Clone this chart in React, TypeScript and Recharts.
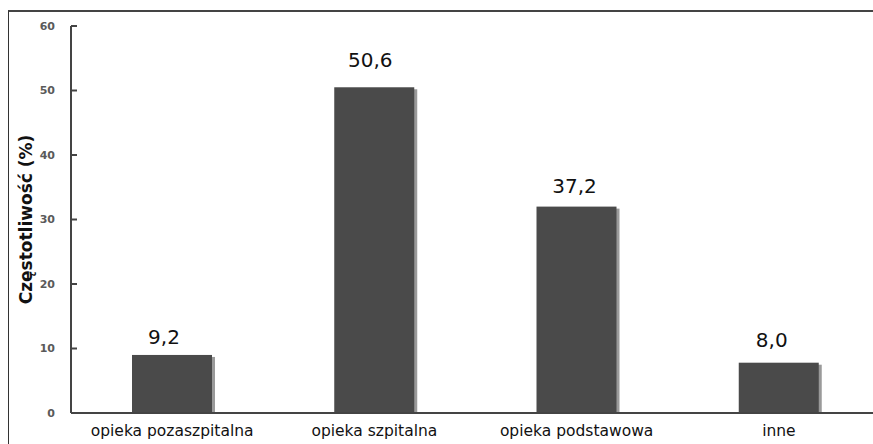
import React from "react";
import { BarChart, Bar, XAxis, YAxis, LabelList } from "recharts";

// categories and values
const categories = [
  "opieka pozaszpitalna",
  "opieka szpitalna",
  "opieka podstawowa",
  "inne",
];
// bar heights as drawn in the figure
const barHeights = [9.0, 50.5, 32.0, 7.8];
// value labels printed above the bars
const valueLabels = ["9,2", "50,6", "37,2", "8,0"];
const yTicks = [0, 10, 20, 30, 40, 50, 60];

// small per-label nudges so the labels sit where the original has them
const labelNudge = [
  { dx: -8, gap: 11 },
  { dx: -4, gap: 20 },
  { dx: -2, gap: 14 },
  { dx: -7, gap: 16 },
];

const FONT = "'DejaVu Sans', Verdana, sans-serif";

const data = categories.map((name, i) => ({
  name,
  value: barHeights[i],
  label: valueLabels[i],
}));

const ShadowBar = (props: any) => {
  const { x, y, width, height, fill } = props;
  if (!height) return null;
  return (
    <g>
      <rect x={x + 3} y={y + 2} width={width} height={height - 2} fill="#9a9a9a" />
      <rect x={x} y={y} width={width} height={height} fill={fill} />
    </g>
  );
};

const ValueLabel = (props: any) => {
  const { x, y, width, index, value } = props;
  const n = labelNudge[index] || { dx: 0, gap: 14 };
  return (
    <text
      x={x + width / 2 + n.dx}
      y={y - n.gap}
      textAnchor="middle"
      fontFamily={FONT}
      fontSize={20}
      fill="#111"
    >
      {value}
    </text>
  );
};

const App: React.FC = () => {
  return (
    <div
      style={{
        position: "absolute",
        left: 8,
        top: 10,
        width: 865,
        height: 434,
        borderTop: "2px solid #444",
        borderLeft: "1px solid #333",
        overflow: "hidden",
        background: "#fff",
      }}
    >
      <BarChart
        width={880}
        height={432}
        data={data}
        margin={{ top: 14, right: 9, bottom: 0, left: 0 }}
        barSize={80}
      >
        <XAxis
          dataKey="name"
          height={31}
          axisLine={{ stroke: "#444", strokeWidth: 2 }}
          tickLine={false}
          tickMargin={6}
          interval={0}
          tick={{ fontFamily: FONT, fontSize: 15.5, fill: "#111" }}
        />
        <YAxis
          width={62}
          domain={[0, 60]}
          ticks={yTicks}
          interval={0}
          axisLine={{ stroke: "#444", strokeWidth: 2 }}
          tickLine={{ stroke: "#444", strokeWidth: 2 }}
          tickSize={-6}
          tickMargin={22}
          tick={{ fontFamily: FONT, fontSize: 11, fontWeight: "bold", fill: "#5a5a5a" }}
          label={{
            value: "Częstotliwość (%)",
            angle: -90,
            position: "insideLeft",
            offset: 17,
            style: {
              textAnchor: "middle",
              fontFamily: FONT,
              fontSize: 17,
              fontWeight: "bold",
              fill: "#111",
            },
          }}
        />
        <Bar
          dataKey="value"
          fill="#4a4a4a"
          shape={<ShadowBar />}
          isAnimationActive={false}
        >
          <LabelList dataKey="label" content={<ValueLabel />} />
        </Bar>
      </BarChart>
    </div>
  );
};

export default App;
